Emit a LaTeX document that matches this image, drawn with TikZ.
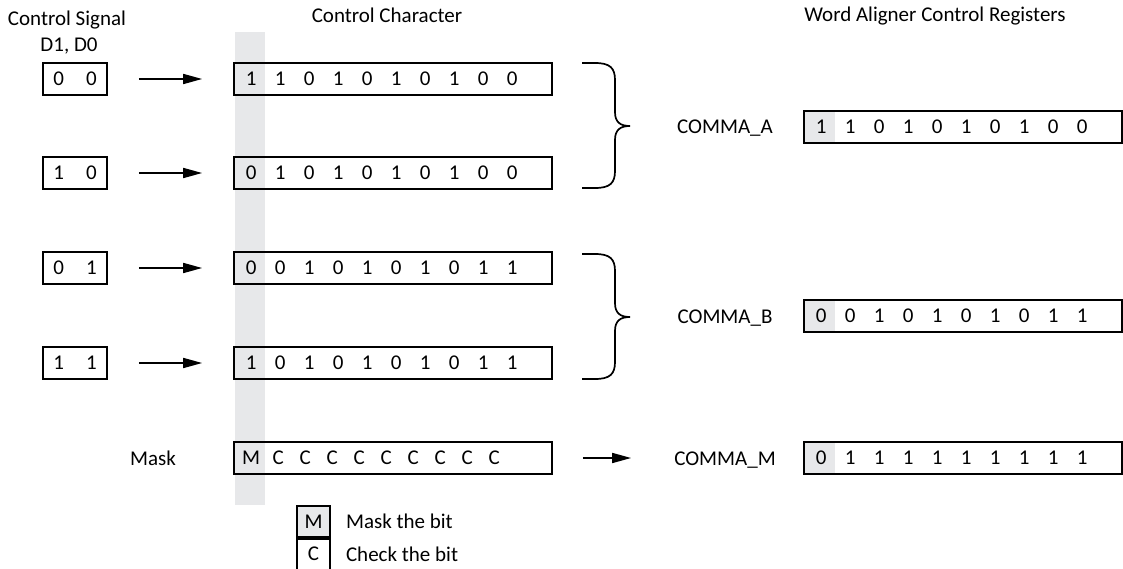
\documentclass[tikz,border=0pt]{standalone}
\usepackage{fontspec}
\setmainfont{Carlito}
\usepackage{xcolor}
\usepackage{tikz}
\usetikzlibrary{positioning,calc,arrows.meta,backgrounds}

\definecolor{maskgrey}{RGB}{231,232,234}

% bits written into a word box: box name, pitch, list of bits
\newcommand{\bitrow}[3]{%
	\foreach \b [count=\i from 0] in {#3}{%
		\node[bit] (#1-\i) at ($(#1.west)+({18+#2*\i},0)$) {\b};}}

\begin{document}
\begin{tikzpicture}[x=1pt, y=-1pt, font=\fontsize{21}{25}\selectfont]
	\tikzset{
		sigbox/.style={draw, line width=1.7pt, minimum width=64pt, minimum height=32pt, inner sep=0pt},
		wordbox/.style={draw, line width=1.7pt, minimum width=318pt, minimum height=32pt, inner sep=0pt},
		legbox/.style={draw, line width=1.7pt, minimum width=33pt, minimum height=31pt, inner sep=0pt},
		bit/.style={inner sep=0pt},
		title/.style={anchor=base, inner sep=0pt},
		feed/.style={-{Triangle[length=19pt,width=10pt]}, line width=1.7pt},
		pics/curly/.style={code={
			\draw[line width=1.7pt] (0,0) -- (13,0) .. controls (28,0) and (33,5) .. (33,17) -- (33,49)
				.. controls (33,59) and (38,63) .. (48,63) .. controls (38,63) and (33,67) .. (33,77)
				-- (33,108) .. controls (33,120) and (28,125) .. (13,125) -- (0,125);}}
	}
	\useasboundingbox (0,0) rectangle (1123,569);
	
	% Masked bit column
	\fill[maskgrey] (235,32) rectangle (265,505);
	
	% Titles
	\node[title] (tsig) at (67,26) {Control Signal};
	\node[title] (tsigd) at (69,52) {D1, D0};
	\node[title] (tchr) at (387,23) {Control Character};
	\node[title] (treg) at (935,22) {Word Aligner Control Registers};
	
	% Control signals
	\node[sigbox] (sig00) at (75,79) {0\hspace{1.05em}0};
	\node[sigbox] (sig10) at (75,173) {1\hspace{1.05em}0};
	\node[sigbox] (sig01) at (75,268) {0\hspace{1.05em}1};
	\node[sigbox] (sig11) at (75,363) {1\hspace{1.05em}1};
	
	% Control characters
	\node[wordbox] (chr1) at (393,79) {};
	\node[wordbox] (chr2) at (393,173) {};
	\node[wordbox] (chr3) at (393,268) {};
	\node[wordbox] (chr4) at (393,363) {};
	\bitrow{chr1}{29}{1,1,0,1,0,1,0,1,0,0}
	\bitrow{chr2}{29}{0,1,0,1,0,1,0,1,0,0}
	\bitrow{chr3}{29}{0,0,1,0,1,0,1,0,1,1}
	\bitrow{chr4}{29}{1,0,1,0,1,0,1,0,1,1}
	
	\draw[feed, shorten <=31pt, shorten >=31pt] (sig00) -- (chr1);
	\draw[feed, shorten <=31pt, shorten >=31pt] (sig10) -- (chr2);
	\draw[feed, shorten <=31pt, shorten >=31pt] (sig01) -- (chr3);
	\draw[feed, shorten <=31pt, shorten >=31pt] (sig11) -- (chr4);
	
	% Mask
	\node[title] (tmask) at (153,465) {Mask};
	\node[wordbox] (mask) at (393,458) {};
	\bitrow{mask}{27}{M,C,C,C,C,C,C,C,C,C}
	
	% Braces
	\pic (braceA) at (582,63) {curly};
	\pic (braceB) at (582,254) {curly};
	
	% Registers
	\node[title] (labA) at (725,134) {COMMA\_A};
	\node[title] (labB) at (725,323) {COMMA\_B};
	\node[title] (labM) at (725,465) {COMMA\_M};
	\node[wordbox] (regA) at (963,127) {};
	\node[wordbox] (regB) at (963,316) {};
	\node[wordbox] (regM) at (963,458) {};
	\begin{scope}[on background layer]
		\fill[maskgrey] (regA.north west) rectangle ++(32,33);
		\fill[maskgrey] (regB.north west) rectangle ++(32,33);
		\fill[maskgrey] (regM.north west) rectangle ++(32,33);
	\end{scope}
	\bitrow{regA}{29}{1,1,0,1,0,1,0,1,0,0}
	\bitrow{regB}{29}{0,0,1,0,1,0,1,0,1,1}
	\bitrow{regM}{29}{0,1,1,1,1,1,1,1,1,1}
	
	\draw[feed, shorten <=30pt, shorten >=43pt] (mask) -- (labM.west |- mask);
	
	% Legend
	\node[legbox, fill=maskgrey] (legM) at (313.5,521.5) {M};
	\node[legbox, below=0pt of legM] (legC) {C};
	\node[right=15pt of legM, inner sep=0pt] (legMtxt) {Mask the bit};
	\node[right=15pt of legC, inner sep=0pt] (legCtxt) {Check the bit};
\end{tikzpicture}
\end{document}
